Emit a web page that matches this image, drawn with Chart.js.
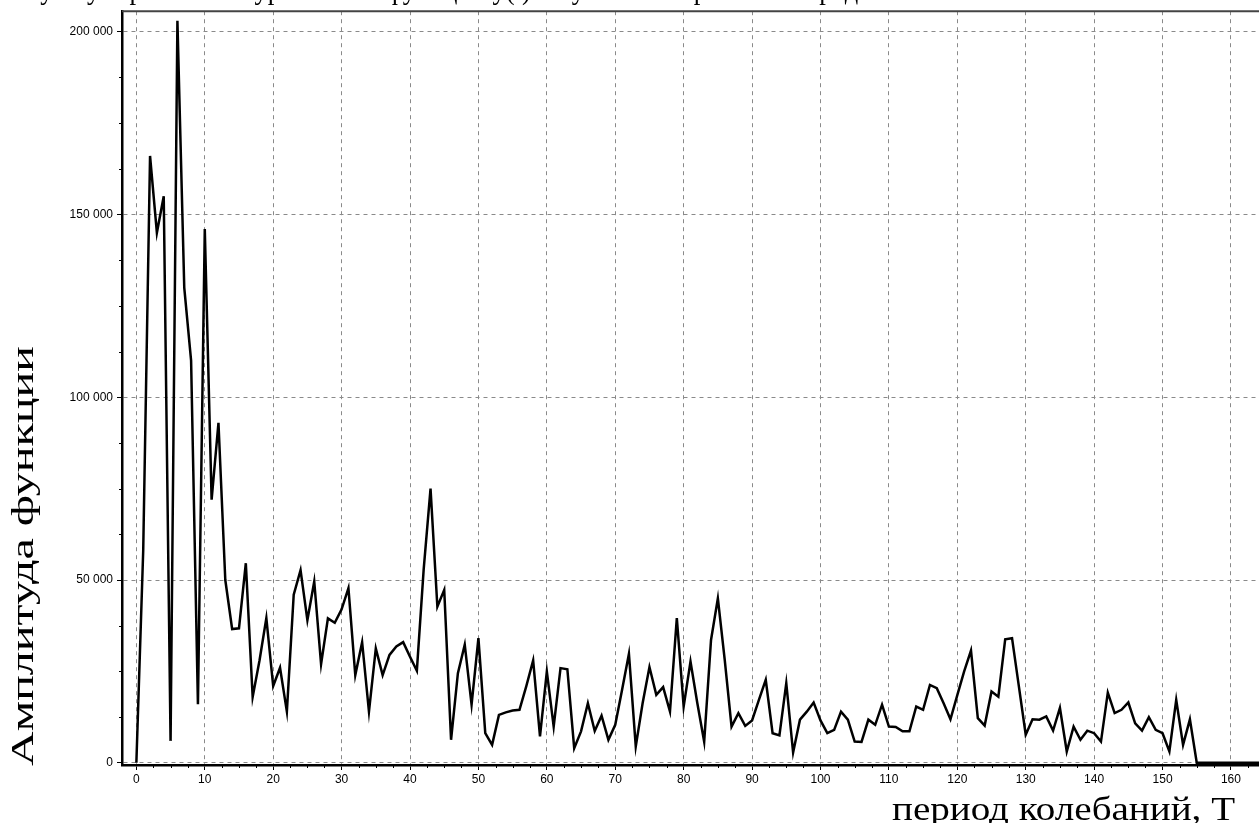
<!DOCTYPE html>
<html><head><meta charset="utf-8">
<script src="https://cdn.jsdelivr.net/npm/chart.js@4/dist/chart.umd.min.js"></script>
<style>html,body{margin:0;padding:0;background:#fff;overflow:hidden}#wrap{position:relative;width:1259px;height:823px}canvas{display:block}</style>
</head><body><div id="wrap"><canvas id="c" width="1259" height="823"></canvas></div>
<script>
// ---- data ----
const periods = [0,1,2,3,4,5,6,7,8,9,10,11,12,13,14,15,16,17,18,19,20,21,22,23,24,25,26,27,28,29,30,31,32,33,34,35,36,37,38,39,40,41,42,43,44,45,46,47,48,49,50,51,52,53,54,55,56,57,58,59,60,61,62,63,64,65,66,67,68,69,70,71,72,73,74,75,76,77,78,79,80,81,82,83,84,85,86,87,88,89,90,91,92,93,94,95,96,97,98,99,100,101,102,103,104,105,106,107,108,109,110,111,112,113,114,115,116,117,118,119,120,121,122,123,124,125,126,127,128,129,130,131,132,133,134,135,136,137,138,139,140,141,142,143,144,145,146,147,148,149,150,151,152,153,154,155,156,157,158,159,160,161,162,163,164,165];
const amplitudes = [0,58000,166000,145000,155000,6000,203000,130000,110000,16000,146000,72000,93000,50000,36600,36800,54600,18000,28000,39600,21000,26000,14000,46000,52700,39000,49600,27000,39500,38300,42000,47800,24000,33000,14000,31300,24000,29500,31800,33000,29000,25200,53000,75000,42700,47300,6300,24500,32300,15900,34100,8100,4900,13100,13800,14300,14500,21000,28000,7200,25000,9900,25900,25600,4000,8600,16300,8700,12900,6300,10400,20000,29800,4500,16300,26200,18600,20700,14000,39600,15400,27700,16300,5800,33600,45000,28200,9900,13600,10100,11600,17200,22700,8100,7500,21800,2800,11800,14000,16500,11600,8100,9000,14000,11800,5800,5700,11800,10400,15900,9900,9800,8600,8600,15400,14500,21300,20400,16300,11900,18500,25000,30700,12200,10200,19500,18100,33800,34100,20900,7700,11900,11800,12700,8800,15000,3100,9900,6300,8800,8100,5800,19200,13600,14500,16500,10800,8800,12500,9000,8100,3100,17200,4900,11900,0,0,0,0,0,0,0,0,0,0,0];
const xTickValues = [0,10,20,30,40,50,60,70,80,90,100,110,120,130,140,150,160];
const yTickValues = [0,50000,100000,150000,200000];
const yTickLabels = ['0','50 000','100 000','150 000','200 000'];
const xTitle = 'период колебаний, T';
const yTitle = 'Амплитуда функции';
const topText = 'за сумму гармоник по уравнению функции у(t) по участкам временного ряда';

const serif = '"Liberation Serif","Times New Roman",serif';
const sans = 'Arial,"Liberation Sans",sans-serif';

const framePlugin = {
  id: 'frame',
  afterDraw(c) {
    const {ctx, chartArea: a, scales: {x, y}} = c;
    ctx.save();
    // top border
    ctx.strokeStyle = '#444';
    ctx.lineWidth = 2;
    ctx.beginPath(); ctx.moveTo(a.left, a.top); ctx.lineTo(a.right, a.top); ctx.stroke();
    // minor ticks
    ctx.strokeStyle = '#000';
    ctx.lineWidth = 1;
    for (let v = 2.5; v <= 164; v += 2.5) {
      if (v % 10 === 0) continue;
      const px = Math.round(x.getPixelForValue(v)) + 0.5;
      ctx.beginPath(); ctx.moveTo(px, a.bottom); ctx.lineTo(px, a.bottom + 3); ctx.stroke();
    }
    for (let v = 12500; v <= 205000; v += 12500) {
      if (v % 50000 === 0) continue;
      const py = Math.round(y.getPixelForValue(v)) + 0.5;
      ctx.beginPath(); ctx.moveTo(a.left - 3, py); ctx.lineTo(a.left, py); ctx.stroke();
    }
    // titles (stretched serif text)
    ctx.fillStyle = '#000';
    ctx.textBaseline = 'alphabetic';
    ctx.textAlign = 'left';
    ctx.font = '33px ' + serif;
    let w = ctx.measureText(xTitle).width;
    ctx.save(); ctx.translate(892, 820); ctx.scale(343 / w, 1); ctx.fillText(xTitle, 0, 0); ctx.restore();
    ctx.font = '31px ' + serif;
    w = ctx.measureText(yTitle).width;
    ctx.save(); ctx.translate(33, 766); ctx.rotate(-Math.PI / 2); ctx.scale(420 / w, 1); ctx.fillText(yTitle, 0, 0); ctx.restore();
    ctx.font = '30px ' + serif;
    w = ctx.measureText(topText).width;
    ctx.save(); ctx.translate(0, -1); ctx.scale(870 / w, 1); ctx.fillText(topText, 0, 0); ctx.restore();
    ctx.restore();
  }
};

new Chart(document.getElementById('c').getContext('2d'), {
  type: 'line',
  data: {
    datasets: [{
      data: periods.map((p, i) => ({x: p, y: amplitudes[i]})),
      borderColor: '#000', borderWidth: 2.5, pointRadius: 0, tension: 0, fill: false,
      borderJoinStyle: 'miter'
    }]
  },
  options: {
    responsive: false, animation: false, devicePixelRatio: 1,
    layout: {padding: {left: 0, right: 0, top: 11, bottom: 0}},
    plugins: {legend: {display: false}, tooltip: {enabled: false}, title: {display: false}},
    scales: {
      x: {
        type: 'linear', min: -2.1, max: 164.1,
        afterBuildTicks: s => { s.ticks = xTickValues.map(v => ({value: v})); },
        afterFit: s => { s.height = 58; },
        ticks: {font: {family: sans, size: 12}, color: '#000', padding: 2, maxRotation: 0, autoSkip: false},
        grid: {color: '#8a8a8a', lineWidth: 1, drawTicks: true, tickLength: 5, tickColor: '#000'},
        border: {display: true, color: '#000', width: 2.5, dash: [4, 4]}
      },
      y: {
        type: 'linear', min: -600, max: 205600,
        afterBuildTicks: s => { s.ticks = yTickValues.map(v => ({value: v})); },
        afterFit: s => { s.width = 122; },
        ticks: {font: {family: sans, size: 12}, color: '#000', padding: 4,
          callback: v => yTickLabels[yTickValues.indexOf(v)]},
        grid: {color: '#8a8a8a', lineWidth: 1, drawTicks: true, tickLength: 5, tickColor: '#000'},
        border: {display: true, color: '#000', width: 2.5, dash: [4, 4]}
      }
    }
  },
  plugins: [framePlugin]
});
</script></body></html>
